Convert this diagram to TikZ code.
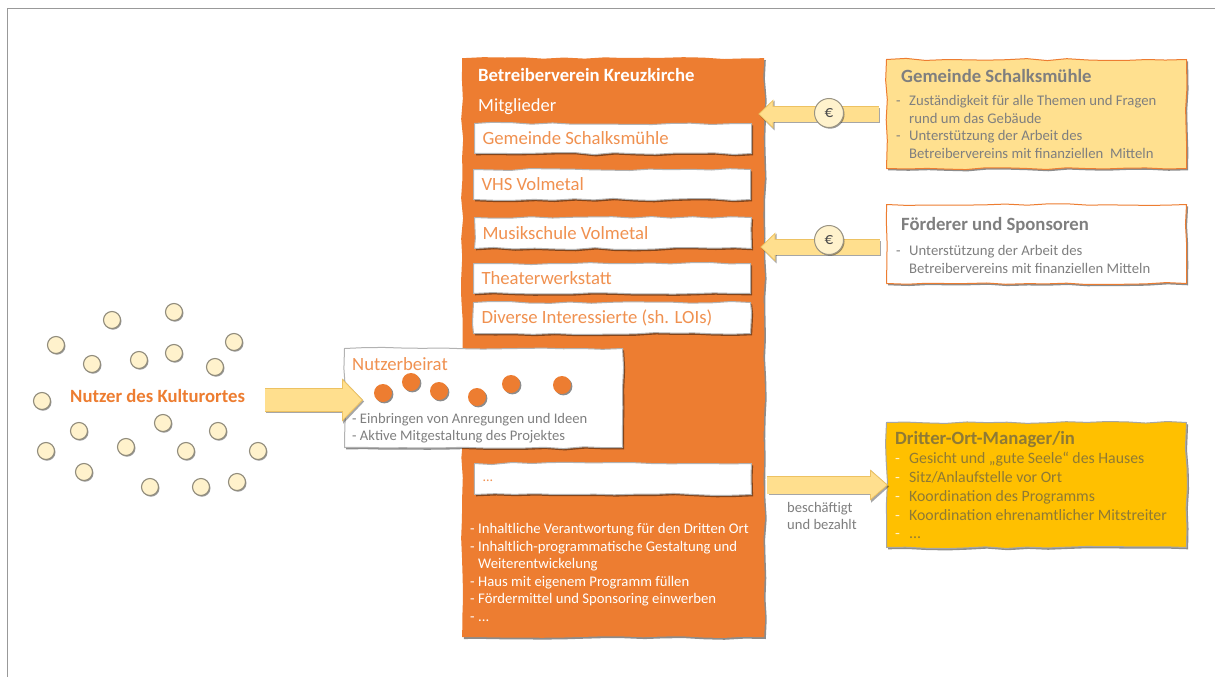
\documentclass[tikz,border=0pt]{standalone}
\usepackage{fontspec}
\setmainfont{Carlito}
\usetikzlibrary{arrows.meta,shadows,decorations.pathmorphing}
\definecolor{orangeK}{HTML}{ED7D31}
\definecolor{goldK}{HTML}{FFC000}
\definecolor{paleK}{HTML}{FFE08F}
\definecolor{creamK}{HTML}{FFF2CC}
\definecolor{bodyK}{HTML}{FFDF8E}
\definecolor{edgeK}{HTML}{EDC262}
\definecolor{greyK}{HTML}{7F7F7F}
\definecolor{mgrK}{HTML}{8F7A35}
\newcommand{\fsz}[1]{\fontsize{#1}{#1}\selectfont}
\newcommand{\dl}[2][13pt]{\makebox[#1][l]{-}#2}
\newcommand{\cl}[2][13pt]{\hspace*{#1}#2}
\tikzset{
  rough/.style={decorate,decoration={random steps,segment length=20pt,amplitude=1.1pt},line join=round},
  boxbase/.style={rough,anchor=north west,inner ysep=0pt,minimum height=#1},
  shade1/.style={drop shadow={shadow xshift=1.6pt,shadow yshift=-1.8pt,fill=black,opacity=.45}},
  wbox/.style={boxbase=#1,shade1,draw=black!30,line width=1pt,fill=white,inner xsep=8pt,text width=261pt,align=flush left,text=orangeK!85!white,font=\fsz{18.7}},
  infobox/.style={boxbase=#1,shade1,line width=1pt,inner xsep=0pt,text width=300pt},
  txt/.style={anchor=west,inner sep=0pt,align=left},
  head/.style={txt,font=\bfseries\fsz{18.7},text=greyK},
  listx/.style={anchor=north west,inner sep=0pt,align=left,text=greyK,font=\fontsize{14.7}{17.6}\selectfont},
  dotY/.style={circle,inner sep=0pt,minimum size=17pt,fill=creamK,draw=black!40!creamK!70!gray,line width=1.1pt,drop shadow={shadow xshift=1pt,shadow yshift=-1.2pt,fill=black,opacity=.4}},
  dotO/.style={circle,inner sep=0pt,minimum size=18pt,fill=orangeK,drop shadow={shadow xshift=1.4pt,shadow yshift=-1.4pt,fill=black,opacity=.45}},
  euro/.style={circle,inner sep=0pt,minimum size=29pt,fill=creamK,draw=black!35!creamK!70!gray,line width=1pt,font=\fsz{17},text=black!70,drop shadow={shadow xshift=1pt,shadow yshift=-1.2pt,fill=black,opacity=.4}},
  fat/.style n args={3}{
    preaction={draw=black,opacity=.35,line width=#1pt+.6pt,transform canvas={xshift=1.2pt,yshift=-1.5pt},
      -{Triangle[length=#3pt,width=#2pt]}},
    preaction={draw=edgeK,line width=#1pt+1.2pt,
      -{Triangle[length=#3pt,width=#2pt,color=edgeK,fill=bodyK,line width=.8pt]}},
    postaction={draw=bodyK,line width=#1pt,shorten >=#3pt-1pt}},
}
\begin{document}
\begin{tikzpicture}[x=1pt,y=-1pt]
\useasboundingbox (0,0) rectangle (1215,677);
\pgfmathsetseed{11}
\fill[white] (0,0) rectangle (1215,677);
\draw[draw=black!40,line width=1pt] (7,677) -- (7,9) -- (1215,9);

% Verein
\node[boxbase=579pt,shade1,fill=orangeK,inner xsep=0pt,text width=302pt] (verein) at (462,58) {};
\node[txt,font=\bfseries\fsz{18.7},text=white] (vtitle) at (478,75) {Betreiberverein Kreuzkirche};
\node[txt,font=\fsz{18.5},text=white] (vmit) at (478,107) {Mitglieder};
\node[wbox=30pt] (m1) at (474,123) {Gemeinde Schalksmühle};
\node[wbox=30pt] (m2) at (473,169) {VHS Volmetal};
\node[wbox=31pt] (m3) at (474,217) {Musikschule Volmetal};
\node[wbox=30pt] (m4) at (473,263) {Theaterwerkstatt};
\node[wbox=31pt] (m5) at (473,302) {Diverse Interessierte (sh. LOIs)};
\node[wbox=31pt,font=\fsz{14}] (m6) at (474,463) {\raisebox{-5pt}{...}};
\node[listx,text=white] (vlist) at (470,523)
 {\dl[8pt]{Inhaltliche Verantwortung für den Dritten Ort}\\
  \dl[8pt]{Inhaltlich-programmatische Gestaltung und}\\
  \cl[8pt]{Weiterentwickelung}\\
  \dl[8pt]{Haus mit eigenem Programm füllen}\\
  \dl[8pt]{Fördermittel und Sponsoring einwerben}\\
  \dl[8pt]{...}};

% right boxes
\node[infobox=109pt,fill=paleK,draw=orangeK] (gem) at (886,59) {};
\node[head] (gemt) at (901,76) {Gemeinde Schalksmühle};
\node[listx] (gemx) at (896,95)
 {\dl{Zuständigkeit für alle Themen und Fragen}\\
  \cl{rund um das Gebäude}\\
  \dl{Unterstützung der Arbeit des}\\
  \cl{Betreibervereins mit finanziellen\ \ Mitteln}};
\node[infobox=79pt,fill=white,draw=orangeK] (foe) at (886,204) {};
\node[head] (foet) at (901,225) {Förderer und Sponsoren};
\node[listx] (foex) at (896,245)
 {\dl{Unterstützung der Arbeit des}\\
  \cl{Betreibervereins mit finanziellen Mitteln}};
\node[infobox=125pt,fill=goldK,draw=black!35] (mgr) at (886,422) {};
\node[head,text=mgrK] (mgrt) at (895,440) {Dritter-Ort-Manager/in};
\node[listx,text=mgrK,font=\fontsize{15.8}{18.8}\selectfont] (mgrx) at (895,452)
 {\makebox[14pt][l]{\textcolor{creamK}{-}}Gesicht und „gute Seele“ des Hauses\\
  \makebox[14pt][l]{\textcolor{creamK}{-}}Sitz/Anlaufstelle vor Ort\\
  \makebox[14pt][l]{\textcolor{creamK}{-}}Koordination des Programms\\
  \makebox[14pt][l]{\textcolor{creamK}{-}}Koordination ehrenamtlicher Mitstreiter\\
  \makebox[14pt][l]{\textcolor{creamK}{-}}...};

% Nutzerbeirat
\node[wbox=99pt,text width=262pt] (beirat) at (344,348) {};
\node[txt,font=\fsz{18.7},text=orangeK!85!white] (beiratt) at (352,364) {Nutzerbeirat};
\node[listx,font=\fontsize{14.6}{17.2}\selectfont] (beiratx) at (352,413)
 {- Einbringen von Anregungen und Ideen\\- Aktive Mitgestaltung des Projektes};
\node[dotO] (o1) at (383,393) {};
\node[dotO] (o2) at (411,382) {};
\node[dotO] (o3) at (439,391) {};
\node[dotO] (o4) at (477,397) {};
\node[dotO] (o5) at (511,384) {};
\node[dotO] (o6) at (562,385) {};

% users
\node[txt,font=\bfseries\fsz{18.7},text=orangeK] (nutzer) at (70,396) {Nutzer des Kulturortes};
\foreach \n/\x/\y in {1/56/345,2/112/320,3/174/312,4/234/342,5/92/364,6/139/360,7/174/353,8/215/367,9/42/401,10/79/431,11/163/423,12/218/431,13/46/451,14/126/447,15/186/451,16/258/451,17/84/472,18/150/487,19/201/487,20/237/482}
  \node[dotY] (u\n) at (\x,\y) {};

% arrows
\coordinate (a2s) at ([xshift=-6pt,yshift=-3pt]foe.west);
\coordinate (a3s) at ([xshift=20pt,yshift=-4pt]nutzer.east);
\path[fat={15}{29}{15}] ([xshift=-7pt]gem.west) -- ([xshift=-6pt]verein.east |- gem.west);
\path[fat={15}{29}{15}] (a2s) -- ([xshift=-4pt]verein.east |- a2s);
\path[fat={22}{43}{21}] (a3s) -- ([xshift=19pt]beirat.west |- a3s);
\path[fat={17}{31}{18}] ([xshift=3pt]verein.east |- mgr.west) -- ([xshift=2pt]mgr.west);
\node[euro] (e1) at (829,113) {€};
\node[euro] (e2) at (829,240) {€};
\node[listx,font=\fontsize{14.6}{17.2}\selectfont] (besch) at (787,502) {beschäftigt\\und bezahlt};
\end{tikzpicture}
\end{document}
